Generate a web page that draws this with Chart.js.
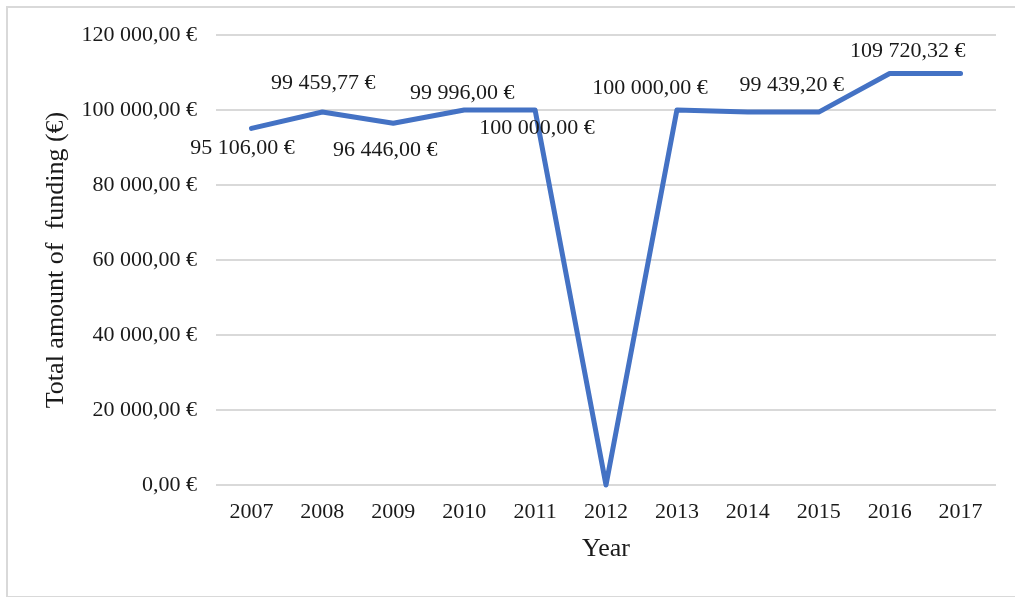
<!DOCTYPE html>
<html>
<head>
<meta charset="utf-8">
<script src="https://cdn.jsdelivr.net/npm/chart.js@4"></script>
<style>
  body { margin: 0; background: #fff; }
  #wrap { position: relative; width: 1015px; height: 597px; overflow: hidden; }
  #frame { position: absolute; left: 6px; top: 6px; width: 1020px; height: 588px; border: 2px solid #d9d9d9; }
  canvas { position: absolute; left: 0; top: 0; }
</style>
</head>
<body>
<div id="wrap">
  <div id="frame"></div>
  <canvas id="fundingChart" width="1015" height="597"></canvas>
</div>
<script>
// Years on the x axis
const years = ['2007', '2008', '2009', '2010', '2011', '2012', '2013', '2014', '2015', '2016', '2017'];

// Total amount of funding per year (€)
const funding = [95106.00, 99459.77, 96446.00, 99996.00, 100000.00, 0, 100000.00, 99439.20, 99439.20, 109720.32, 109720.32];

// Which points carry a value label (as in the original, not all of them do)
const labelled = [true, true, true, true, true, false, true, false, true, true, false];

// Where each label sits relative to its point, in pixels
const labelOffsetX = [-9, 1, -8, -2, 2, 0, -27, 0, -27, 18, 0];
const labelOffsetY = [20, -29, 27, -17, 18, 0, -22, 0, -27, -22, 0];

const fontFamily = "'Liberation Serif', 'Times New Roman', serif";

// 100000 -> "100 000,00 €"
function euro(v) {
    const parts = v.toFixed(2).split('.');
    const intPart = parts[0].replace(/\B(?=(\d{3})+(?!\d))/g, ' ');
    return intPart + ',' + parts[1] + ' €';
}

// Draw the value labels next to the line
const valueLabels = {
    id: 'valueLabels',
    afterDatasetsDraw(chart) {
        const ctx = chart.ctx;
        const meta = chart.getDatasetMeta(0);
        ctx.save();
        ctx.font = '22px ' + fontFamily;
        ctx.fillStyle = '#1a1a1a';
        ctx.textAlign = 'center';
        ctx.textBaseline = 'middle';
        meta.data.forEach((pt, i) => {
            if (!labelled[i]) return;
            ctx.fillText(euro(funding[i]), pt.x + labelOffsetX[i], pt.y + labelOffsetY[i]);
        });
        ctx.restore();
    }
};

const ctx = document.getElementById('fundingChart').getContext('2d');
new Chart(ctx, {
    type: 'line',
    data: {
        labels: years,
        datasets: [{
            data: funding,
            borderColor: '#4472c4',
            borderWidth: 5,
            borderJoinStyle: 'round',
            borderCapStyle: 'round',
            pointRadius: 0,
            tension: 0,
            fill: false,
            clip: false
        }]
    },
    options: {
        responsive: false,
        animation: false,
        layout: { padding: { top: 35, right: 19, bottom: 0, left: 0 } },
        plugins: {
            legend: { display: false },
            tooltip: { enabled: false }
        },
        scales: {
            x: {
                offset: true,
                grid: { display: false, drawTicks: false },
                border: { display: false },
                ticks: { color: '#1a1a1a', font: { family: fontFamily, size: 22 }, padding: 14, maxRotation: 0 },
                title: {
                    display: true,
                    text: 'Year',
                    color: '#1a1a1a',
                    font: { family: fontFamily, size: 26 },
                    padding: { top: 0, bottom: 32 }
                },
                afterFit(scale) { scale.height = 112; }
            },
            y: {
                min: 0,
                max: 120000,
                grid: { color: '#d9d9d9', lineWidth: 2, drawTicks: false },
                border: { display: false },
                ticks: {
                    stepSize: 20000,
                    color: '#1a1a1a',
                    font: { family: fontFamily, size: 22 },
                    padding: 19,
                    callback: v => euro(v)
                },
                title: {
                    display: true,
                    text: 'Total amount of  funding (€)',
                    color: '#1a1a1a',
                    font: { family: fontFamily, size: 26 },
                    padding: { top: 41, bottom: 0 }
                },
                afterFit(scale) { scale.width = 216; }
            }
        }
    },
    plugins: [valueLabels]
});
</script>
</body>
</html>
